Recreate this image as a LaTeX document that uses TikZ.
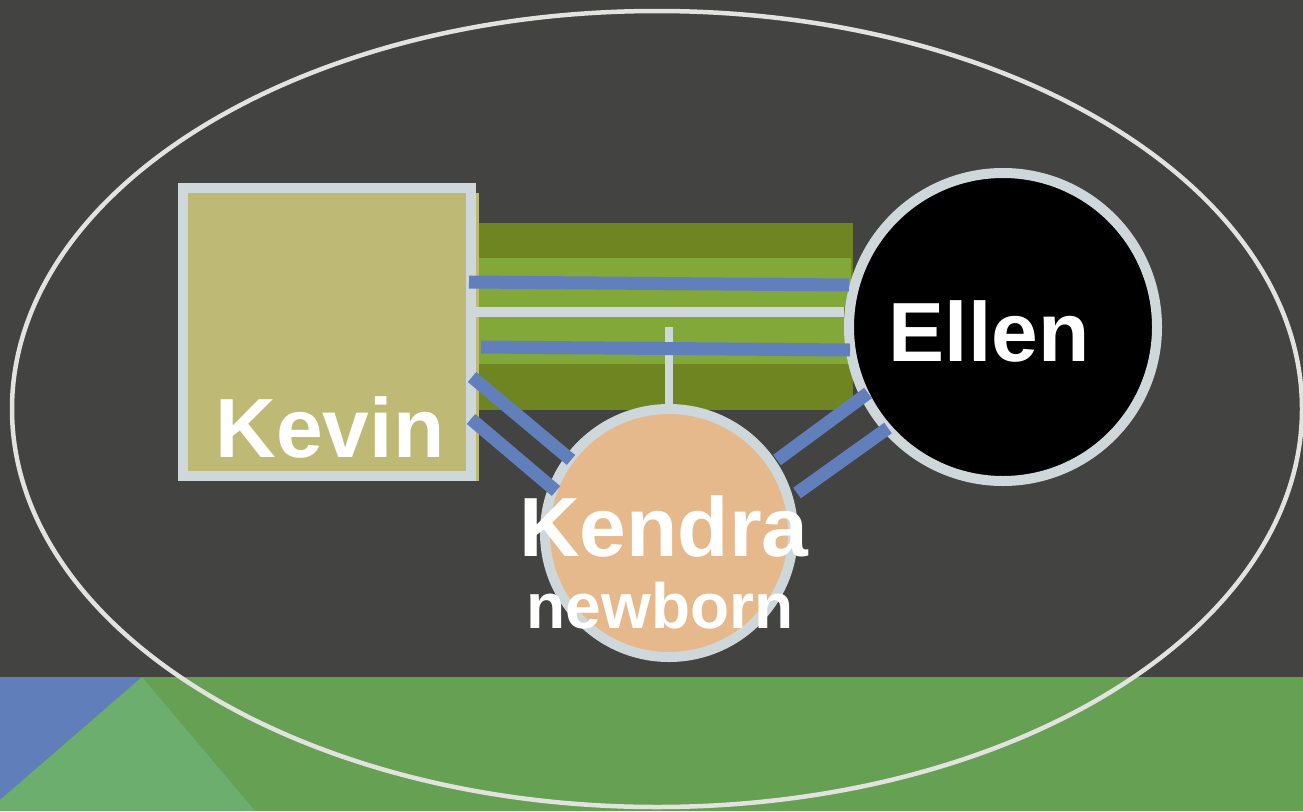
\documentclass[tikz,border=0pt]{standalone}
\usepackage{fontspec}
\setmainfont{Liberation Sans}
\usetikzlibrary{shapes.geometric}
\definecolor{bgGrey}{HTML}{434341}
\definecolor{rimGrey}{HTML}{CED8DB}
\definecolor{ovalWhite}{HTML}{E2E2DE}
\definecolor{khaki}{HTML}{BEBA76}
\definecolor{bandDark}{HTML}{6E8521}
\definecolor{bandLight}{HTML}{82A83A}
\definecolor{linkBlue}{HTML}{617FBB}
\definecolor{peach}{HTML}{E6B98C}
\definecolor{grass}{HTML}{66A052}
\definecolor{grassLight}{HTML}{6BAE6D}
\definecolor{skyBlue}{HTML}{5F7EBA}
\begin{document}
\begin{tikzpicture}[x=1pt, y=-1pt,
    nametext/.style={text=white, font=\bfseries\fontsize{84}{84}\selectfont, anchor=base, inner sep=0pt},
    subtext/.style={text=white, font=\bfseries\fontsize{64}{64}\selectfont, anchor=base, inner sep=0pt},
    bluelink/.style={draw=linkBlue, line width=13pt},
    tie/.style={draw=rimGrey, line width=10pt}]
    \useasboundingbox (0, 0) rectangle (1303, 811);
    \fill[bgGrey] (0, 0) rectangle (1303, 811);

    % ground at the bottom
    \fill[grass] (0, 677) rectangle (1303, 811);
    \fill[skyBlue] (0, 677) -- (142, 677) -- (0, 800) -- cycle;
    \fill[grassLight] (142, 677) -- (255, 811) -- (0, 811) -- (0, 800) -- cycle;

    % band between Kevin and Ellen
    \fill[bandDark]  (476, 223) rectangle (853, 410);
    \fill[bandLight] (476, 258) rectangle (851, 307);
    \fill[bandLight] (476, 317) rectangle (851, 364);
    \fill[khaki] (476, 193) rectangle (479, 481);

    \path (327, 332)  node[rectangle, fill=khaki, tie, minimum size=288pt, inner sep=0pt] (kevin) {};
    \path (1003, 327) node[circle, fill=black, tie, minimum size=308pt, inner sep=0pt] (ellen) {};
    \path (669, 533)  node[circle, fill=peach, tie, minimum size=248pt, inner sep=0pt] (kendra) {};

    \draw[tie] (kevin.east |- 0, 312) -- (ellen.west |- 0, 312);
    \coordinate (stub) at (669, 327);
    \draw[draw=rimGrey, line width=8pt] (stub) -- (kendra.north);

    \coordinate (kv1) at (469, 282);
    \coordinate (el1) at (849, 285);
    \coordinate (kv2) at (481, 347);
    \coordinate (el2) at (850, 350);
    \coordinate (kv3) at (472, 377);
    \coordinate (kd3) at (571, 460);
    \coordinate (kv4) at (471, 419);
    \coordinate (kd4) at (556, 491);
    \coordinate (kd5) at (777, 460);
    \coordinate (el5) at (868, 393);
    \coordinate (kd6) at (797, 493);
    \coordinate (el6) at (888, 428);

    \draw[bluelink] (kv1) -- (el1);
    \draw[bluelink] (kv2) -- (el2);
    \draw[bluelink] (kv3) -- (kd3);
    \draw[bluelink] (kv4) -- (kd4);
    \draw[bluelink] (kd5) -- (el5);
    \draw[bluelink] (kd6) -- (el6);

    \path (330, 457) node[nametext] (kevinname)  {Kevin};
    \path (989, 361) node[nametext] (ellenname)  {Ellen};
    \path (664, 556) node[nametext] (kendraname) {Kendra};
    \path (660, 628) node[subtext]  (kendraage)  {newborn};

    \path (657, 409) node[ellipse, draw=ovalWhite, line width=4.5pt, minimum width=1290pt, minimum height=796pt, inner sep=0pt] (family) {};
\end{tikzpicture}
\end{document}
